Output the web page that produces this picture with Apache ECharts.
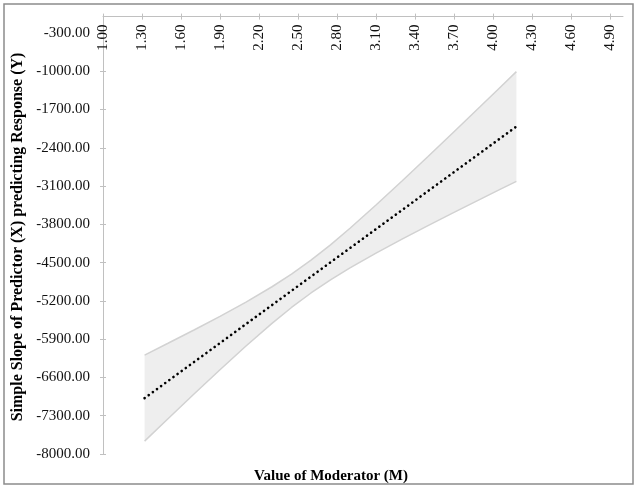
<!DOCTYPE html>
<html><head><meta charset="utf-8">
<script src="https://cdn.jsdelivr.net/npm/echarts@6/dist/echarts.min.js"></script>
<style>html,body{margin:0;padding:0;background:#fff}#c{width:638px;height:489px}</style>
</head><body><div id="c"></div>
<script>
// Moderator values (M) at which the simple slope was read
const moderator = [1.32, 1.5, 1.7, 1.9, 2.1, 2.3, 2.45, 2.6, 2.75, 2.9, 3.1, 3.3, 3.5, 3.7, 3.9, 4.05, 4.18];
// Simple slope estimate
const slope = [-6978, -6665, -6318, -5971, -5623, -5276, -5015, -4755, -4494, -4234, -3886, -3539, -3191, -2844, -2497, -2236, -2010];
// Confidence band
const upperCI = [-6191, -5975, -5732, -5483, -5221, -4941, -4710, -4455, -4174, -3872, -3447, -3008, -2559, -2106, -1650, -1306, -1007];
const lowerCI = [-7765, -7355, -6904, -6459, -6025, -5611, -5320, -5055, -4814, -4596, -4325, -4070, -3823, -3582, -3344, -3166, -3013];
// Tick labels
const xTicks = [1.00, 1.30, 1.60, 1.90, 2.20, 2.50, 2.80, 3.10, 3.40, 3.70, 4.00, 4.30, 4.60, 4.90];
const yTicks = [-300, -1000, -1700, -2400, -3100, -3800, -4500, -5200, -5900, -6600, -7300, -8000];
const xTitle = 'Value of Moderator (M)';
const yTitle = 'Simple Slope of Predictor (X) predicting Response (Y)';

const upperData = moderator.map((m, i) => [m, upperCI[i]]);
const lowerData = moderator.map((m, i) => [m, lowerCI[i]]);
const slopeData = moderator.map((m, i) => [m, slope[i]]);

const serif = '"Liberation Serif", "DejaVu Serif", serif';
const axisGrey = '#c0c0c0';

const chart = echarts.init(document.getElementById('c'), null, {renderer: 'canvas'});
chart.setOption({
  animation: false,
  grid: {left: 103, right: 15, top: 16.6, bottom: 35, containLabel: false},
  xAxis: [{
    type: 'value', position: 'top', min: 1, max: 5,
    axisLine: {show: true, lineStyle: {color: axisGrey, width: 1}},
    axisTick: {show: true, length: 3, customValues: xTicks, lineStyle: {color: axisGrey}},
    axisLabel: {show: true, inside: true, rotate: 90, margin: 8, customValues: xTicks,
      formatter: v => Number(v).toFixed(2), fontFamily: serif, fontSize: 15, color: '#111'},
    splitLine: {show: false}
  }, {
    type: 'value', position: 'top', min: 1, max: 5,
    axisLine: {show: false},
    axisTick: {show: true, inside: true, length: 3, customValues: xTicks, lineStyle: {color: axisGrey}},
    axisLabel: {show: false},
    splitLine: {show: false}
  }],
  yAxis: [{
    type: 'value', position: 'left', min: -8000, max: 0,
    axisLine: {show: true, lineStyle: {color: axisGrey, width: 1}},
    axisTick: {show: true, length: 3, customValues: yTicks, lineStyle: {color: axisGrey}},
    axisLabel: {show: true, margin: 13, customValues: yTicks,
      formatter: v => Number(v).toFixed(2), fontFamily: serif, fontSize: 15, color: '#111'},
    splitLine: {show: false}
  }, {
    type: 'value', position: 'left', min: -8000, max: 0,
    axisLine: {show: false},
    axisTick: {show: true, inside: true, length: 3, customValues: yTicks, lineStyle: {color: axisGrey}},
    axisLabel: {show: false},
    splitLine: {show: false}
  }],
  series: [{
    type: 'custom', name: 'band', data: [[moderator[0], lowerCI[0]]], z: 1, silent: true,
    renderItem: function (params, api) {
      const pts = upperData.map(p => api.coord(p))
        .concat(lowerData.slice().reverse().map(p => api.coord(p)));
      return {type: 'polygon', shape: {points: pts}, style: {fill: '#eeeeee', stroke: null}};
    }
  }, {
    type: 'line', name: 'upper', data: upperData, symbol: 'none', z: 2,
    lineStyle: {color: '#d2d2d2', width: 1.5}
  }, {
    type: 'line', name: 'lower', data: lowerData, symbol: 'none', z: 2,
    lineStyle: {color: '#d2d2d2', width: 1.5}
  }, {
    type: 'line', name: 'slope', data: slopeData, symbol: 'none', z: 5,
    lineStyle: {color: '#000', width: 2.6, type: [0.1, 5], cap: 'round'}
  }],
  graphic: [{
    type: 'rect', shape: {x: 4, y: 4, width: 629, height: 480},
    style: {fill: 'none', stroke: '#8c8c8c', lineWidth: 1.5}, silent: true
  }, {
    type: 'text', x: 331, y: 476,
    style: {text: xTitle, font: 'bold 15px ' + serif, fill: '#000', align: 'center', verticalAlign: 'middle'}
  }, {
    type: 'text', x: 18, y: 237, rotation: Math.PI / 2,
    style: {text: yTitle, font: 'bold 16px ' + serif, fill: '#000', align: 'center', verticalAlign: 'middle'}
  }]
});
</script>
</body></html>
